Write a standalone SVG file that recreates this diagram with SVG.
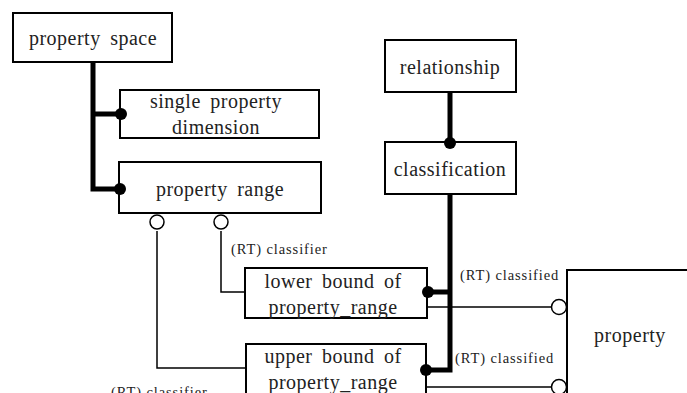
<svg xmlns="http://www.w3.org/2000/svg" width="687" height="393" viewBox="0 0 687 393">
<style>
.box{fill:#fff;stroke:#000;stroke-width:2}
.t{font-family:"Liberation Serif",serif;font-size:20px;fill:#222;text-anchor:middle;letter-spacing:0.5px;word-spacing:4px}
.l{font-family:"Liberation Serif",serif;font-size:14.5px;fill:#222;letter-spacing:0.9px}
.thick{fill:none;stroke:#000;stroke-width:5}
.thin{fill:none;stroke:#000;stroke-width:1.5}
.dot{fill:#000}
.open{fill:#fff;stroke:#000;stroke-width:1.5}
</style>
<rect width="687" height="393" fill="#fff"/>
<g id="property-space"><rect class="box" x="13" y="13" width="159" height="49"/><text class="t" x="93" y="45">property space</text></g>
<g id="single-property-dimension"><rect class="box" x="120" y="90" width="199" height="48"/><text class="t" x="216" y="108">single property</text><text class="t" x="216" y="134">dimension</text></g>
<g id="property-range"><rect class="box" x="119" y="162" width="202" height="51"/><text class="t" x="220" y="196">property range</text></g>
<g id="relationship"><rect class="box" x="385" y="40" width="131" height="52"/><text class="t" x="450" y="74">relationship</text></g>
<g id="classification"><rect class="box" x="385" y="142" width="131" height="52"/><text class="t" x="450" y="176">classification</text></g>
<g id="lower-bound"><rect class="box" x="245" y="268" width="182" height="50"/><text class="t" x="333" y="288">lower bound of</text><text class="t" x="333" y="314">property_range</text></g>
<g id="upper-bound"><rect class="box" x="246" y="344" width="180" height="60"/><text class="t" x="333" y="363">upper bound of</text><text class="t" x="333" y="389">property_range</text></g>
<g id="property"><rect class="box" x="567" y="270" width="130" height="130"/><text class="t" x="630" y="342">property</text></g>
<g id="connectors">
<path class="thick" d="M93 62 V189 H119 M93 114 H120"/>
<path class="thick" d="M450 92 V142"/>
<path class="thick" d="M450 194 V370 H426 M450 292 H428"/>
<path class="thin" d="M221 231 V292 H245"/>
<path class="thin" d="M157 231 V368 H246"/>
<path class="thin" d="M427 307 H551"/>
<path class="thin" d="M426 387 H551"/>
<circle class="dot" cx="121" cy="114" r="6"/>
<circle class="dot" cx="120" cy="189" r="6"/>
<circle class="dot" cx="450" cy="143" r="6"/>
<circle class="dot" cx="428" cy="292" r="6"/>
<circle class="dot" cx="426" cy="370" r="6"/>
<circle class="open" cx="157" cy="222" r="7"/>
<circle class="open" cx="221" cy="222" r="7"/>
<circle class="open" cx="559" cy="307" r="7.5"/>
<circle class="open" cx="559" cy="387" r="7.5"/>
<text class="l" x="231" y="254">(RT) classifier</text>
<text class="l" x="460" y="280">(RT) classified</text>
<text class="l" x="455" y="363">(RT) classified</text>
<text class="l" x="111" y="397">(RT) classifier</text>
</g>
</svg>
